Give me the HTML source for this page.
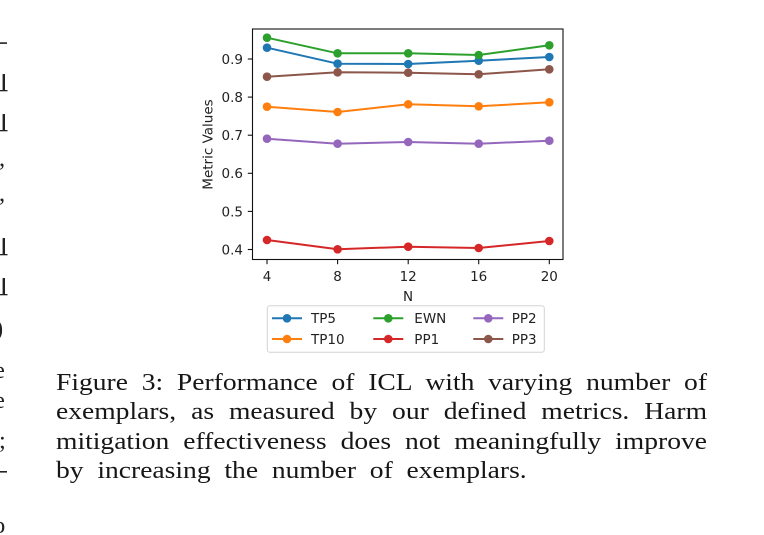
<!DOCTYPE html>
<html>
<head>
<meta charset="utf-8">
<style>
  html, body { margin:0; padding:0; background:#fff; }
  body { width:764px; height:535px; position:relative; overflow:hidden; }
  svg { position:absolute; left:0; top:0; }
  .cap { position:absolute; left:55.5px; font-family:"Liberation Serif", "Times New Roman", serif; font-size:24.5px; line-height:29px; color:#161616; white-space:normal; text-align:justify; text-align-last:justify; transform:scaleX(1.125); transform-origin:0 0; }
</style>
</head>
<body>
<svg width="764" height="535" viewBox="0 0 764 535" xmlns="http://www.w3.org/2000/svg">
  <!-- left column fragments -->
  <g fill="#222" font-family="Liberation Serif, serif" font-size="24.5">
    <rect x="0" y="42.3" width="7" height="1.6"/>
    <rect x="2.6" y="74" width="2.4" height="17"/><rect x="0" y="90" width="7.5" height="1.3"/>
    <rect x="2.6" y="114" width="2.4" height="17"/><rect x="0" y="130" width="7.5" height="1.3"/>
    <text x="-1" y="166">,</text>
    <text x="-1" y="201">,</text>
    <rect x="2.6" y="238" width="2.4" height="17"/><rect x="0" y="254" width="7.5" height="1.3"/>
    <rect x="2.6" y="278" width="2.4" height="17"/><rect x="0" y="294" width="7.5" height="1.3"/>
    <text x="-5" y="336">)</text>
    <text x="-6" y="378">e</text>
    <text x="-6" y="408">e</text>
    <text x="-1" y="448">;</text>
    <rect x="0" y="471" width="7" height="1.6"/>
    <text x="-7" y="533">o</text>
  </g>

  <!-- axes frame -->
  <rect x="252.5" y="29" width="310.5" height="230.5" fill="none" stroke="#111" stroke-width="1.1"/>

  <!-- ticks -->
  <g stroke="#111" stroke-width="1.1">
    <line x1="247.8" y1="249.5" x2="252.5" y2="249.5"/>
    <line x1="247.8" y1="211.4" x2="252.5" y2="211.4"/>
    <line x1="247.8" y1="173.3" x2="252.5" y2="173.3"/>
    <line x1="247.8" y1="135.2" x2="252.5" y2="135.2"/>
    <line x1="247.8" y1="97.1" x2="252.5" y2="97.1"/>
    <line x1="247.8" y1="59" x2="252.5" y2="59"/>
    <line x1="267" y1="259.5" x2="267" y2="264.2"/>
    <line x1="337.6" y1="259.5" x2="337.6" y2="264.2"/>
    <line x1="408.2" y1="259.5" x2="408.2" y2="264.2"/>
    <line x1="478.7" y1="259.5" x2="478.7" y2="264.2"/>
    <line x1="549.3" y1="259.5" x2="549.3" y2="264.2"/>
  </g>
  <g fill="#222" font-family="DejaVu Sans, Liberation Sans, sans-serif" font-size="13.5">
    <g text-anchor="end">
      <text x="243" y="254.4">0.4</text>
      <text x="243" y="216.3">0.5</text>
      <text x="243" y="178.2">0.6</text>
      <text x="243" y="140.1">0.7</text>
      <text x="243" y="102">0.8</text>
      <text x="243" y="63.9">0.9</text>
    </g>
    <g text-anchor="middle">
      <text x="267" y="281">4</text>
      <text x="337.6" y="281">8</text>
      <text x="408.2" y="281">12</text>
      <text x="478.7" y="281">16</text>
      <text x="549.3" y="281">20</text>
      <text x="408" y="301">N</text>
      <text transform="translate(212.5,144.5) rotate(-90)" x="0" y="0">Metric Values</text>
    </g>
  </g>

  <!-- series -->
  <g fill="none" stroke-width="2" stroke-linejoin="round">
    <polyline stroke="#1f77b4" points="267,47.7 337.6,63.7 408.2,64 478.7,60.7 549.3,57"/>
    <polyline stroke="#ff7f0e" points="267,106.7 337.6,112 408.2,104.3 478.7,106.3 549.3,102.3"/>
    <polyline stroke="#2ca02c" points="267,37.7 337.6,53.3 408.2,53.3 478.7,55 549.3,45.3"/>
    <polyline stroke="#d62728" points="267,240 337.6,249.3 408.2,246.7 478.7,248 549.3,241"/>
    <polyline stroke="#9467bd" points="267,138.7 337.6,143.7 408.2,142 478.7,143.7 549.3,140.7"/>
    <polyline stroke="#8c564b" points="267,76.7 337.6,72.3 408.2,72.7 478.7,74.3 549.3,69.3"/>
  </g>
  <g>
    <g fill="#1f77b4"><circle cx="267" cy="47.7" r="4.3"/><circle cx="337.6" cy="63.7" r="4.3"/><circle cx="408.2" cy="64" r="4.3"/><circle cx="478.7" cy="60.7" r="4.3"/><circle cx="549.3" cy="57" r="4.3"/></g>
    <g fill="#ff7f0e"><circle cx="267" cy="106.7" r="4.3"/><circle cx="337.6" cy="112" r="4.3"/><circle cx="408.2" cy="104.3" r="4.3"/><circle cx="478.7" cy="106.3" r="4.3"/><circle cx="549.3" cy="102.3" r="4.3"/></g>
    <g fill="#2ca02c"><circle cx="267" cy="37.7" r="4.3"/><circle cx="337.6" cy="53.3" r="4.3"/><circle cx="408.2" cy="53.3" r="4.3"/><circle cx="478.7" cy="55" r="4.3"/><circle cx="549.3" cy="45.3" r="4.3"/></g>
    <g fill="#d62728"><circle cx="267" cy="240" r="4.3"/><circle cx="337.6" cy="249.3" r="4.3"/><circle cx="408.2" cy="246.7" r="4.3"/><circle cx="478.7" cy="248" r="4.3"/><circle cx="549.3" cy="241" r="4.3"/></g>
    <g fill="#9467bd"><circle cx="267" cy="138.7" r="4.3"/><circle cx="337.6" cy="143.7" r="4.3"/><circle cx="408.2" cy="142" r="4.3"/><circle cx="478.7" cy="143.7" r="4.3"/><circle cx="549.3" cy="140.7" r="4.3"/></g>
    <g fill="#8c564b"><circle cx="267" cy="76.7" r="4.3"/><circle cx="337.6" cy="72.3" r="4.3"/><circle cx="408.2" cy="72.7" r="4.3"/><circle cx="478.7" cy="74.3" r="4.3"/><circle cx="549.3" cy="69.3" r="4.3"/></g>
  </g>

  <!-- legend -->
  <rect x="267.3" y="305.7" width="277" height="46.6" rx="2.5" fill="#fff" stroke="#d4d4d4" stroke-width="1"/>
  <g stroke-width="2">
    <line x1="272" y1="318.3" x2="302" y2="318.3" stroke="#1f77b4"/>
    <line x1="272" y1="339" x2="302" y2="339" stroke="#ff7f0e"/>
    <line x1="373.3" y1="318.3" x2="403.3" y2="318.3" stroke="#2ca02c"/>
    <line x1="373.3" y1="339" x2="403.3" y2="339" stroke="#d62728"/>
    <line x1="473.3" y1="318.3" x2="503.3" y2="318.3" stroke="#9467bd"/>
    <line x1="473.3" y1="339" x2="503.3" y2="339" stroke="#8c564b"/>
  </g>
  <circle cx="287" cy="318.3" r="4.3" fill="#1f77b4"/>
  <circle cx="287" cy="339" r="4.3" fill="#ff7f0e"/>
  <circle cx="388.3" cy="318.3" r="4.3" fill="#2ca02c"/>
  <circle cx="388.3" cy="339" r="4.3" fill="#d62728"/>
  <circle cx="488.3" cy="318.3" r="4.3" fill="#9467bd"/>
  <circle cx="488.3" cy="339" r="4.3" fill="#8c564b"/>
  <g fill="#222" font-family="DejaVu Sans, Liberation Sans, sans-serif" font-size="13.5">
    <text x="311" y="323.2">TP5</text>
    <text x="311" y="343.9">TP10</text>
    <text x="414.3" y="323.2">EWN</text>
    <text x="414.3" y="343.9">PP1</text>
    <text x="511.7" y="323.2">PP2</text>
    <text x="511.7" y="343.9">PP3</text>
  </g>
</svg>

<div class="cap" style="top:368px; width:578.7px;">Figure 3: Performance of ICL with varying number of</div>
<div class="cap" style="top:397.2px; width:578.7px;">exemplars, as measured by our defined metrics. Harm</div>
<div class="cap" style="top:426.5px; width:578.7px;">mitigation effectiveness does not meaningfully improve</div>
<div class="cap" style="top:455.6px; width:418.4px;">by increasing the number of exemplars.</div>
</body>
</html>
